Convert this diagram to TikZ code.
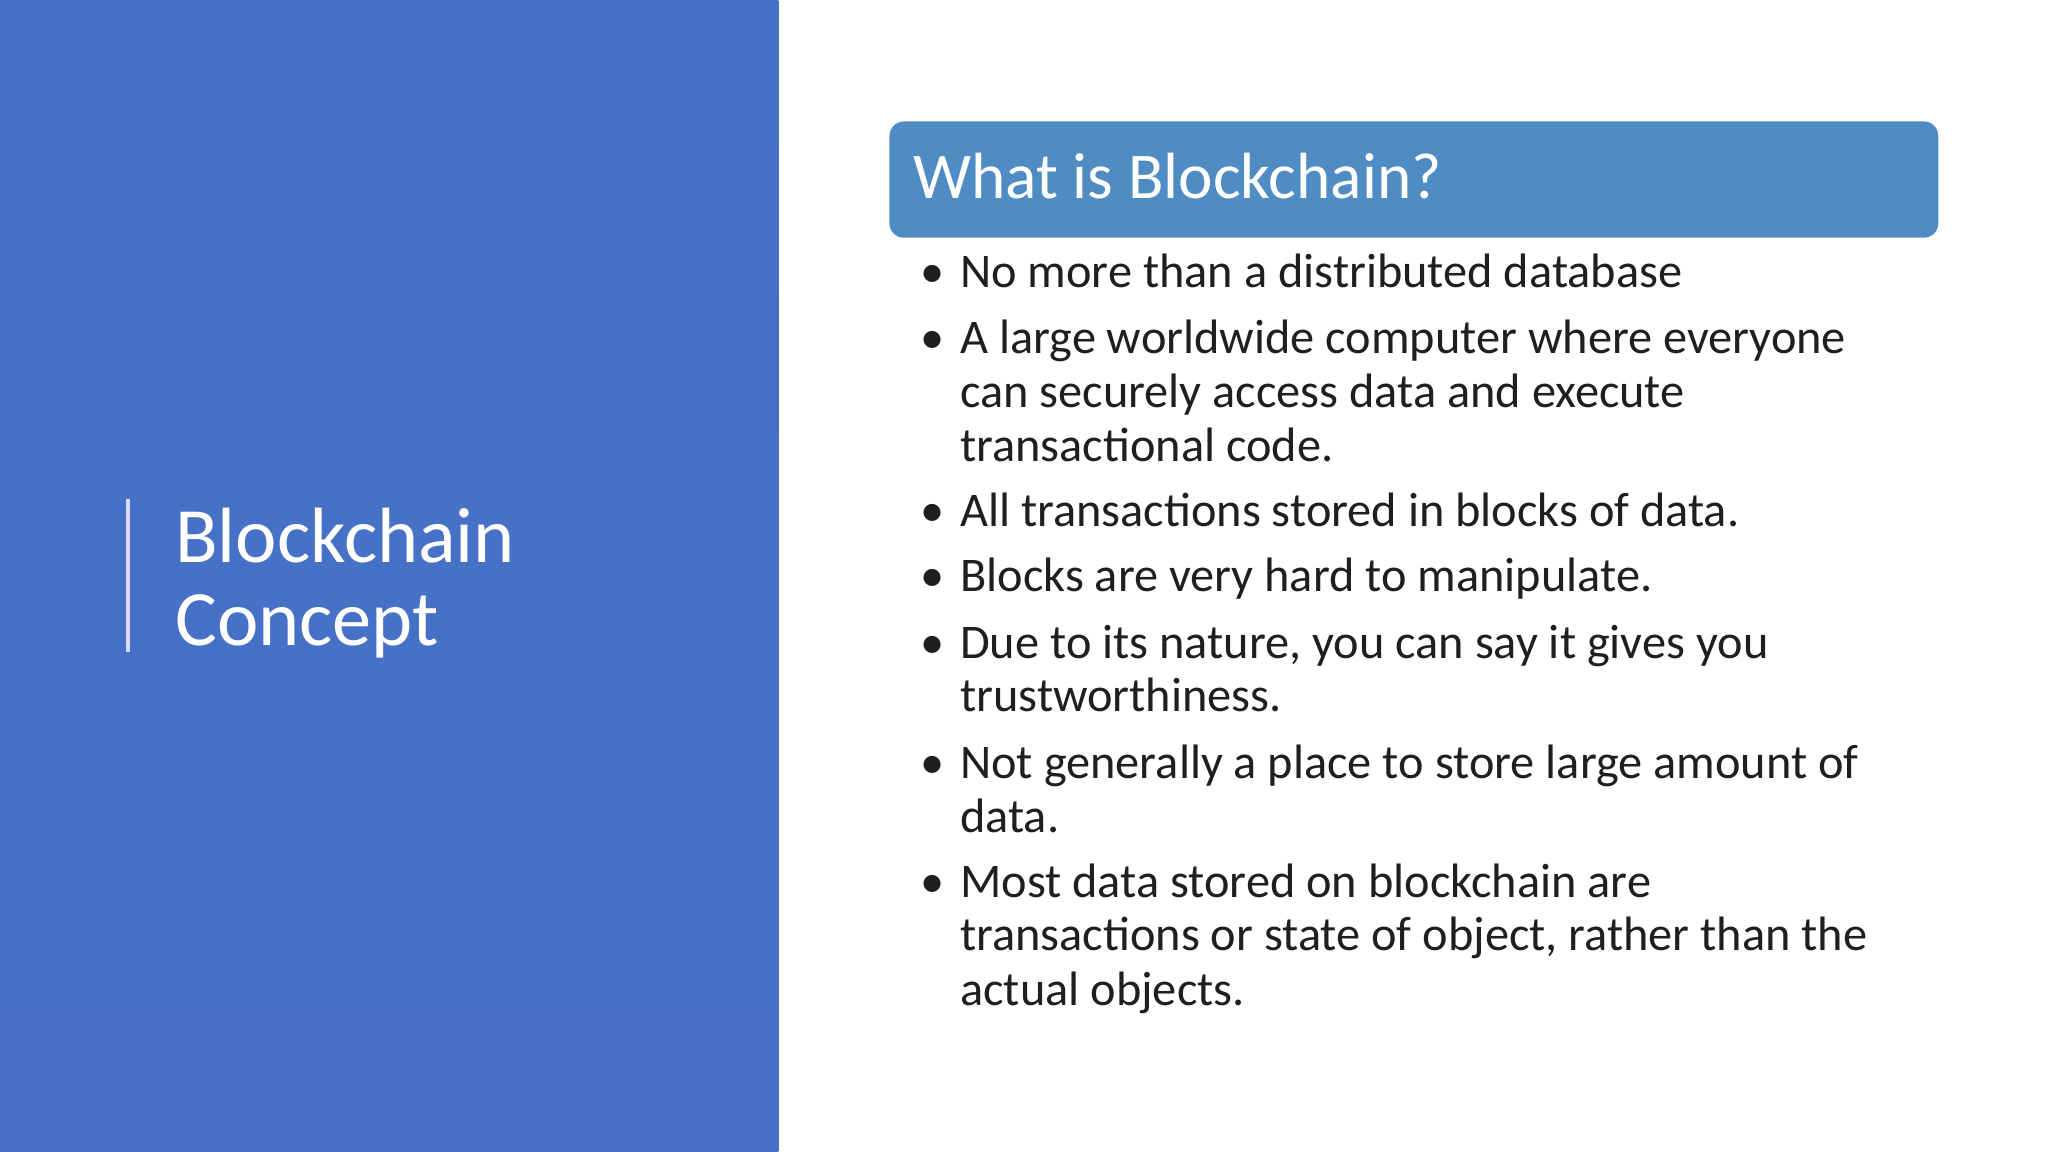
\documentclass[tikz,border=0pt]{standalone}
\usepackage{fontspec}
\setmainfont{Carlito}
\begin{document}
\begin{tikzpicture}[x=1pt,y=-1pt,
  ln/.style={anchor=base west,inner sep=0pt,text=black!88,font=\fontsize{37}{41}\selectfont},
  bul/.style={anchor=base,inner sep=0pt,text=black!88,font=\fontsize{37}{41}\selectfont}]
\useasboundingbox (0,0) rectangle (1568,882);
\fill[white] (0,0) rectangle (1568,882);
\shade[top color={rgb,255:red,68;green,114;blue,196},bottom color={rgb,255:red,72;green,112;blue,200}] (0,0) rectangle (596,882);
\draw[white!85!blue,line width=2.5] (98,382) -- (98,499);
\node[anchor=base west,inner sep=0pt,text=white,font=\fontsize{60}{63}\selectfont] (t1) at (134,431) {Blockchain};
\node[anchor=base west,inner sep=0pt,text=white,font=\fontsize{60}{63}\selectfont] (t2) at (134,494) {Concept};
\fill[rounded corners=11,fill={rgb,255:red,80;green,140;blue,196}] (681,93) rectangle (1484,182);
\node[anchor=base west,inner sep=0pt,text=white,font=\fontsize{50}{54}\selectfont] (h) at (699,152) {What is Blockchain?};
\foreach \y/\t [count=\i] in {
 220/{No more than a distributed database},
 271/{A large worldwide computer where everyone},
 312/{can securely access data and execute},
 353/{transactional code.},
 403/{All transactions stored in blocks of data.},
 453/{Blocks are very hard to manipulate.},
 504/{Due to its nature, you can say it gives you},
 545/{trustworthiness.},
 596/{Not generally a place to store large amount of},
 637/{data.},
 687/{Most data stored on blockchain are},
 728/{transactions or state of object, rather than the},
 770/{actual objects.}}
 {\node[ln] (l\i) at (735,\y) {\t};}
\foreach \y [count=\i] in {220,271,403,453,504,596,687}
 {\node[bul] (b\i) at (714,\y) {•};}
\end{tikzpicture}
\end{document}
